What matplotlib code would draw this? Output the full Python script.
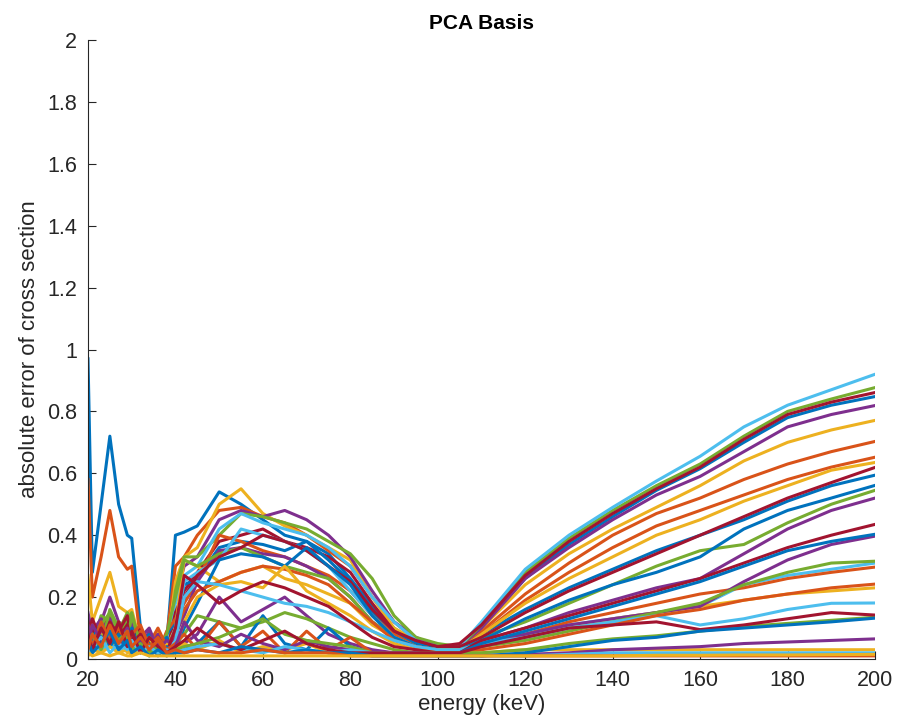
import numpy as np
import matplotlib
matplotlib.use("Agg")
import matplotlib.pyplot as plt
from matplotlib.ticker import FuncFormatter

plt.rcParams['font.family'] = ['Liberation Sans', 'DejaVu Sans']

# energy grid (keV) shared by every basis curve
energy = [20, 21, 23, 25, 27, 29, 30, 32, 34, 36, 38, 40,
          42, 45, 50, 55, 60, 65, 70, 75, 80, 85, 90, 95, 100, 105,
          110, 120, 130, 140, 150, 160, 170, 180, 190, 200]

# absolute error of cross section, one list per basis count
err_01 = [0.97, 0.28, 0.50, 0.72, 0.50, 0.40, 0.39, 0.10, 0.04, 0.06, 0.05, 0.40,
          0.41, 0.43, 0.54, 0.50, 0.45, 0.40, 0.38, 0.34, 0.26, 0.17, 0.10, 0.05, 0.03, 0.04,
          0.10, 0.26, 0.37, 0.46, 0.545, 0.615, 0.70, 0.78, 0.82, 0.848]
err_02 = [0.58, 0.20, 0.33, 0.48, 0.33, 0.29, 0.30, 0.06, 0.08, 0.03, 0.07, 0.30,
          0.33, 0.40, 0.48, 0.49, 0.46, 0.44, 0.40, 0.35, 0.30, 0.20, 0.12, 0.06, 0.03, 0.04,
          0.09, 0.21, 0.31, 0.40, 0.47, 0.52, 0.58, 0.63, 0.67, 0.703]
err_03 = [0.27, 0.12, 0.20, 0.28, 0.17, 0.15, 0.16, 0.05, 0.02, 0.08, 0.03, 0.25,
          0.33, 0.36, 0.50, 0.55, 0.47, 0.43, 0.40, 0.36, 0.32, 0.20, 0.10, 0.06, 0.04, 0.04,
          0.10, 0.24, 0.34, 0.42, 0.49, 0.56, 0.64, 0.70, 0.74, 0.771]
err_04 = [0.15, 0.08, 0.12, 0.20, 0.12, 0.10, 0.11, 0.04, 0.09, 0.02, 0.06, 0.20,
          0.30, 0.33, 0.45, 0.48, 0.46, 0.48, 0.45, 0.40, 0.33, 0.22, 0.12, 0.07, 0.04, 0.04,
          0.10, 0.26, 0.36, 0.45, 0.53, 0.59, 0.67, 0.75, 0.79, 0.819]
err_05 = [0.10, 0.05, 0.14, 0.12, 0.09, 0.15, 0.12, 0.03, 0.07, 0.05, 0.02, 0.22,
          0.33, 0.33, 0.40, 0.47, 0.46, 0.44, 0.42, 0.38, 0.34, 0.26, 0.14, 0.07, 0.05, 0.04,
          0.11, 0.28, 0.39, 0.48, 0.56, 0.63, 0.72, 0.80, 0.84, 0.877]
err_06 = [0.06, 0.10, 0.03, 0.10, 0.06, 0.09, 0.04, 0.08, 0.02, 0.07, 0.04, 0.18,
          0.27, 0.30, 0.42, 0.47, 0.44, 0.42, 0.40, 0.36, 0.30, 0.20, 0.12, 0.06, 0.04, 0.04,
          0.12, 0.29, 0.40, 0.49, 0.575, 0.655, 0.75, 0.82, 0.87, 0.92]
err_07 = [0.12, 0.04, 0.10, 0.14, 0.06, 0.12, 0.05, 0.09, 0.03, 0.06, 0.02, 0.15,
          0.22, 0.28, 0.38, 0.40, 0.42, 0.38, 0.36, 0.33, 0.28, 0.18, 0.09, 0.05, 0.04, 0.05,
          0.11, 0.27, 0.38, 0.47, 0.55, 0.62, 0.71, 0.79, 0.83, 0.861]
err_08 = [0.05, 0.10, 0.03, 0.08, 0.11, 0.04, 0.09, 0.02, 0.07, 0.03, 0.08, 0.12,
          0.24, 0.26, 0.36, 0.38, 0.37, 0.35, 0.38, 0.32, 0.25, 0.15, 0.08, 0.05, 0.03, 0.03,
          0.08, 0.16, 0.23, 0.29, 0.35, 0.40, 0.45, 0.51, 0.56, 0.594]
err_09 = [0.10, 0.03, 0.11, 0.05, 0.12, 0.06, 0.10, 0.03, 0.08, 0.02, 0.09, 0.13,
          0.18, 0.25, 0.40, 0.38, 0.35, 0.33, 0.30, 0.27, 0.22, 0.14, 0.08, 0.04, 0.03, 0.03,
          0.08, 0.19, 0.28, 0.36, 0.43, 0.48, 0.53, 0.58, 0.62, 0.652]
err_10 = [0.08, 0.12, 0.05, 0.09, 0.04, 0.10, 0.07, 0.05, 0.02, 0.09, 0.04, 0.10,
          0.32, 0.30, 0.25, 0.28, 0.30, 0.26, 0.24, 0.21, 0.18, 0.11, 0.07, 0.04, 0.03, 0.03,
          0.08, 0.18, 0.26, 0.33, 0.40, 0.45, 0.51, 0.56, 0.61, 0.635]
err_11 = [0.04, 0.09, 0.13, 0.07, 0.10, 0.05, 0.12, 0.03, 0.06, 0.08, 0.02, 0.08,
          0.14, 0.25, 0.35, 0.36, 0.34, 0.33, 0.30, 0.26, 0.20, 0.12, 0.07, 0.04, 0.03, 0.03,
          0.06, 0.10, 0.15, 0.19, 0.23, 0.26, 0.34, 0.42, 0.48, 0.52]
err_12 = [0.09, 0.05, 0.11, 0.15, 0.08, 0.13, 0.15, 0.04, 0.07, 0.03, 0.08, 0.20,
          0.32, 0.30, 0.34, 0.36, 0.33, 0.30, 0.28, 0.26, 0.20, 0.12, 0.07, 0.04, 0.03, 0.03,
          0.07, 0.12, 0.18, 0.24, 0.30, 0.35, 0.37, 0.44, 0.50, 0.545]
err_13 = [0.03, 0.07, 0.02, 0.06, 0.04, 0.08, 0.03, 0.06, 0.01, 0.05, 0.03, 0.10,
          0.25, 0.28, 0.32, 0.42, 0.40, 0.38, 0.35, 0.30, 0.22, 0.14, 0.07, 0.04, 0.03, 0.03,
          0.05, 0.08, 0.11, 0.13, 0.15, 0.17, 0.24, 0.27, 0.29, 0.31]
err_14 = [0.07, 0.13, 0.06, 0.11, 0.09, 0.14, 0.06, 0.10, 0.04, 0.07, 0.03, 0.06,
          0.20, 0.27, 0.33, 0.36, 0.40, 0.38, 0.35, 0.30, 0.25, 0.16, 0.09, 0.06, 0.04, 0.04,
          0.07, 0.15, 0.22, 0.28, 0.34, 0.40, 0.46, 0.52, 0.57, 0.619]
err_15 = [0.04, 0.02, 0.08, 0.05, 0.03, 0.06, 0.02, 0.05, 0.08, 0.04, 0.07, 0.03,
          0.10, 0.18, 0.32, 0.34, 0.33, 0.30, 0.36, 0.30, 0.24, 0.14, 0.07, 0.04, 0.03, 0.03,
          0.06, 0.13, 0.19, 0.24, 0.28, 0.33, 0.42, 0.48, 0.52, 0.561]
err_16 = [0.06, 0.11, 0.04, 0.09, 0.05, 0.10, 0.04, 0.09, 0.05, 0.10, 0.04, 0.09,
          0.16, 0.22, 0.25, 0.28, 0.30, 0.29, 0.27, 0.24, 0.18, 0.12, 0.06, 0.04, 0.03, 0.03,
          0.05, 0.08, 0.12, 0.15, 0.18, 0.21, 0.23, 0.26, 0.28, 0.297]
err_17 = [0.02, 0.05, 0.09, 0.04, 0.07, 0.02, 0.06, 0.03, 0.07, 0.02, 0.05, 0.04,
          0.12, 0.20, 0.24, 0.25, 0.23, 0.30, 0.22, 0.18, 0.14, 0.09, 0.05, 0.03, 0.03, 0.03,
          0.04, 0.07, 0.10, 0.13, 0.15, 0.17, 0.19, 0.21, 0.22, 0.23]
err_18 = [0.11, 0.05, 0.09, 0.13, 0.04, 0.08, 0.03, 0.07, 0.10, 0.03, 0.06, 0.04,
          0.05, 0.08, 0.20, 0.12, 0.16, 0.20, 0.14, 0.08, 0.05, 0.03, 0.02, 0.02, 0.02, 0.02,
          0.05, 0.08, 0.11, 0.13, 0.15, 0.17, 0.25, 0.32, 0.37, 0.397]
err_19 = [0.05, 0.09, 0.04, 0.16, 0.10, 0.06, 0.14, 0.05, 0.03, 0.06, 0.02, 0.05,
          0.08, 0.14, 0.12, 0.10, 0.12, 0.15, 0.13, 0.10, 0.07, 0.05, 0.03, 0.02, 0.02, 0.02,
          0.04, 0.06, 0.09, 0.12, 0.15, 0.18, 0.24, 0.28, 0.31, 0.316]
err_20 = [0.02, 0.06, 0.03, 0.05, 0.02, 0.05, 0.02, 0.04, 0.02, 0.05, 0.02, 0.06,
          0.20, 0.25, 0.24, 0.22, 0.20, 0.18, 0.17, 0.15, 0.12, 0.09, 0.06, 0.04, 0.03, 0.03,
          0.05, 0.07, 0.10, 0.12, 0.14, 0.11, 0.13, 0.16, 0.18, 0.181]
err_21 = [0.06, 0.10, 0.05, 0.12, 0.07, 0.11, 0.05, 0.08, 0.04, 0.06, 0.02, 0.10,
          0.27, 0.24, 0.18, 0.22, 0.25, 0.23, 0.20, 0.17, 0.12, 0.07, 0.04, 0.03, 0.02, 0.02,
          0.06, 0.10, 0.14, 0.18, 0.22, 0.26, 0.31, 0.36, 0.40, 0.435]
err_22 = [0.03, 0.07, 0.11, 0.04, 0.08, 0.03, 0.10, 0.02, 0.05, 0.01, 0.04, 0.02,
          0.03, 0.05, 0.12, 0.04, 0.14, 0.05, 0.03, 0.10, 0.04, 0.02, 0.02, 0.02, 0.02, 0.02,
          0.05, 0.09, 0.13, 0.17, 0.21, 0.25, 0.30, 0.35, 0.38, 0.403]
err_23 = [0.09, 0.04, 0.12, 0.06, 0.10, 0.05, 0.08, 0.11, 0.04, 0.07, 0.03, 0.05,
          0.08, 0.03, 0.12, 0.04, 0.09, 0.02, 0.09, 0.03, 0.07, 0.02, 0.02, 0.02, 0.02, 0.02,
          0.03, 0.05, 0.08, 0.11, 0.14, 0.16, 0.19, 0.21, 0.23, 0.242]
err_24 = [0.01, 0.03, 0.02, 0.04, 0.02, 0.03, 0.01, 0.03, 0.02, 0.03, 0.01, 0.03,
          0.05, 0.03, 0.06, 0.02, 0.04, 0.03, 0.05, 0.02, 0.03, 0.02, 0.02, 0.02, 0.02, 0.02,
          0.02, 0.03, 0.03, 0.03, 0.03, 0.03, 0.03, 0.03, 0.03, 0.03]
err_25 = [0.05, 0.11, 0.06, 0.09, 0.05, 0.10, 0.04, 0.06, 0.03, 0.05, 0.02, 0.04,
          0.12, 0.06, 0.04, 0.08, 0.05, 0.03, 0.06, 0.04, 0.03, 0.02, 0.02, 0.02, 0.02, 0.02,
          0.01, 0.015, 0.02, 0.03, 0.035, 0.04, 0.05, 0.055, 0.06, 0.065]
err_26 = [0.04, 0.08, 0.03, 0.10, 0.06, 0.09, 0.03, 0.05, 0.02, 0.04, 0.02, 0.03,
          0.04, 0.05, 0.07, 0.10, 0.13, 0.08, 0.06, 0.05, 0.04, 0.02, 0.02, 0.02, 0.02, 0.02,
          0.02, 0.03, 0.05, 0.065, 0.075, 0.09, 0.105, 0.115, 0.125, 0.135]
err_27 = [0.02, 0.04, 0.07, 0.02, 0.05, 0.03, 0.06, 0.02, 0.04, 0.02, 0.03, 0.02,
          0.03, 0.04, 0.05, 0.03, 0.02, 0.04, 0.03, 0.02, 0.03, 0.02, 0.02, 0.02, 0.01, 0.01,
          0.01, 0.01, 0.015, 0.02, 0.02, 0.02, 0.02, 0.02, 0.02, 0.02]
err_28 = [0.08, 0.03, 0.10, 0.05, 0.12, 0.04, 0.09, 0.02, 0.07, 0.04, 0.02, 0.04,
          0.06, 0.10, 0.05, 0.03, 0.06, 0.09, 0.05, 0.03, 0.02, 0.02, 0.02, 0.02, 0.02, 0.02,
          0.04, 0.07, 0.10, 0.11, 0.12, 0.095, 0.11, 0.13, 0.15, 0.142]
err_29 = [0.06, 0.02, 0.05, 0.09, 0.03, 0.06, 0.02, 0.04, 0.01, 0.03, 0.01, 0.02,
          0.02, 0.03, 0.02, 0.04, 0.03, 0.02, 0.03, 0.02, 0.02, 0.01, 0.01, 0.01, 0.01, 0.01,
          0.01, 0.02, 0.04, 0.06, 0.07, 0.09, 0.10, 0.11, 0.12, 0.132]
err_30 = [0.03, 0.08, 0.04, 0.11, 0.05, 0.09, 0.04, 0.07, 0.03, 0.06, 0.02, 0.03,
          0.02, 0.03, 0.02, 0.02, 0.03, 0.02, 0.02, 0.02, 0.01, 0.01, 0.01, 0.01, 0.01, 0.01,
          0.01, 0.01, 0.01, 0.01, 0.01, 0.01, 0.01, 0.01, 0.01, 0.01]
err_31 = [0.02, 0.01, 0.02, 0.01, 0.02, 0.01, 0.01, 0.02, 0.01, 0.01, 0.01, 0.01,
          0.01, 0.01, 0.01, 0.01, 0.01, 0.01, 0.01, 0.01, 0.01, 0.01, 0.01, 0.01, 0.01, 0.01,
          0.01, 0.01, 0.01, 0.01, 0.012, 0.012, 0.013, 0.013, 0.014, 0.015]

curves = [err_01, err_02, err_03, err_04, err_05, err_06, err_07, err_08,
          err_09, err_10, err_11, err_12, err_13, err_14, err_15, err_16,
          err_17, err_18, err_19, err_20, err_21, err_22, err_23, err_24,
          err_25, err_26, err_27, err_28, err_29, err_30, err_31]

# MATLAB default line color order
colors = ['#0072BD', '#D95319', '#EDB120', '#7E2F8E',
          '#77AC30', '#4DBEEE', '#A2142F']

fig = plt.figure(figsize=(9.11, 7.16), dpi=100)
ax = fig.add_axes([0.0966, 0.0796, 0.8639, 0.8645])

for i, vals in enumerate(curves):
    ax.plot(energy, vals, color=colors[i % len(colors)], lw=2.2)

ax.set_xlim(20, 200)
ax.set_ylim(0, 2)
ax.set_xticks(range(20, 201, 20))
ax.set_yticks(np.arange(0, 2.01, 0.2))
ax.yaxis.set_major_formatter(FuncFormatter(lambda v, p: f"{v:g}"))

ax.spines['top'].set_visible(False)
ax.spines['right'].set_visible(False)
for s in ('left', 'bottom'):
    ax.spines[s].set_color('#262626')
    ax.spines[s].set_linewidth(0.8)
ax.tick_params(direction='in', length=6, width=0.8, labelsize=15.5,
               pad=8, colors='#262626')

ax.set_title('PCA Basis', fontsize=15, fontweight='bold', pad=8, color='black')
ax.set_xlabel('energy (keV)', fontsize=16, labelpad=2, color='#262626')
ax.set_ylabel('absolute error of cross section', fontsize=16, labelpad=5,
              color='#262626')

fig.savefig('out.png', dpi=100)
plt.close(fig)
